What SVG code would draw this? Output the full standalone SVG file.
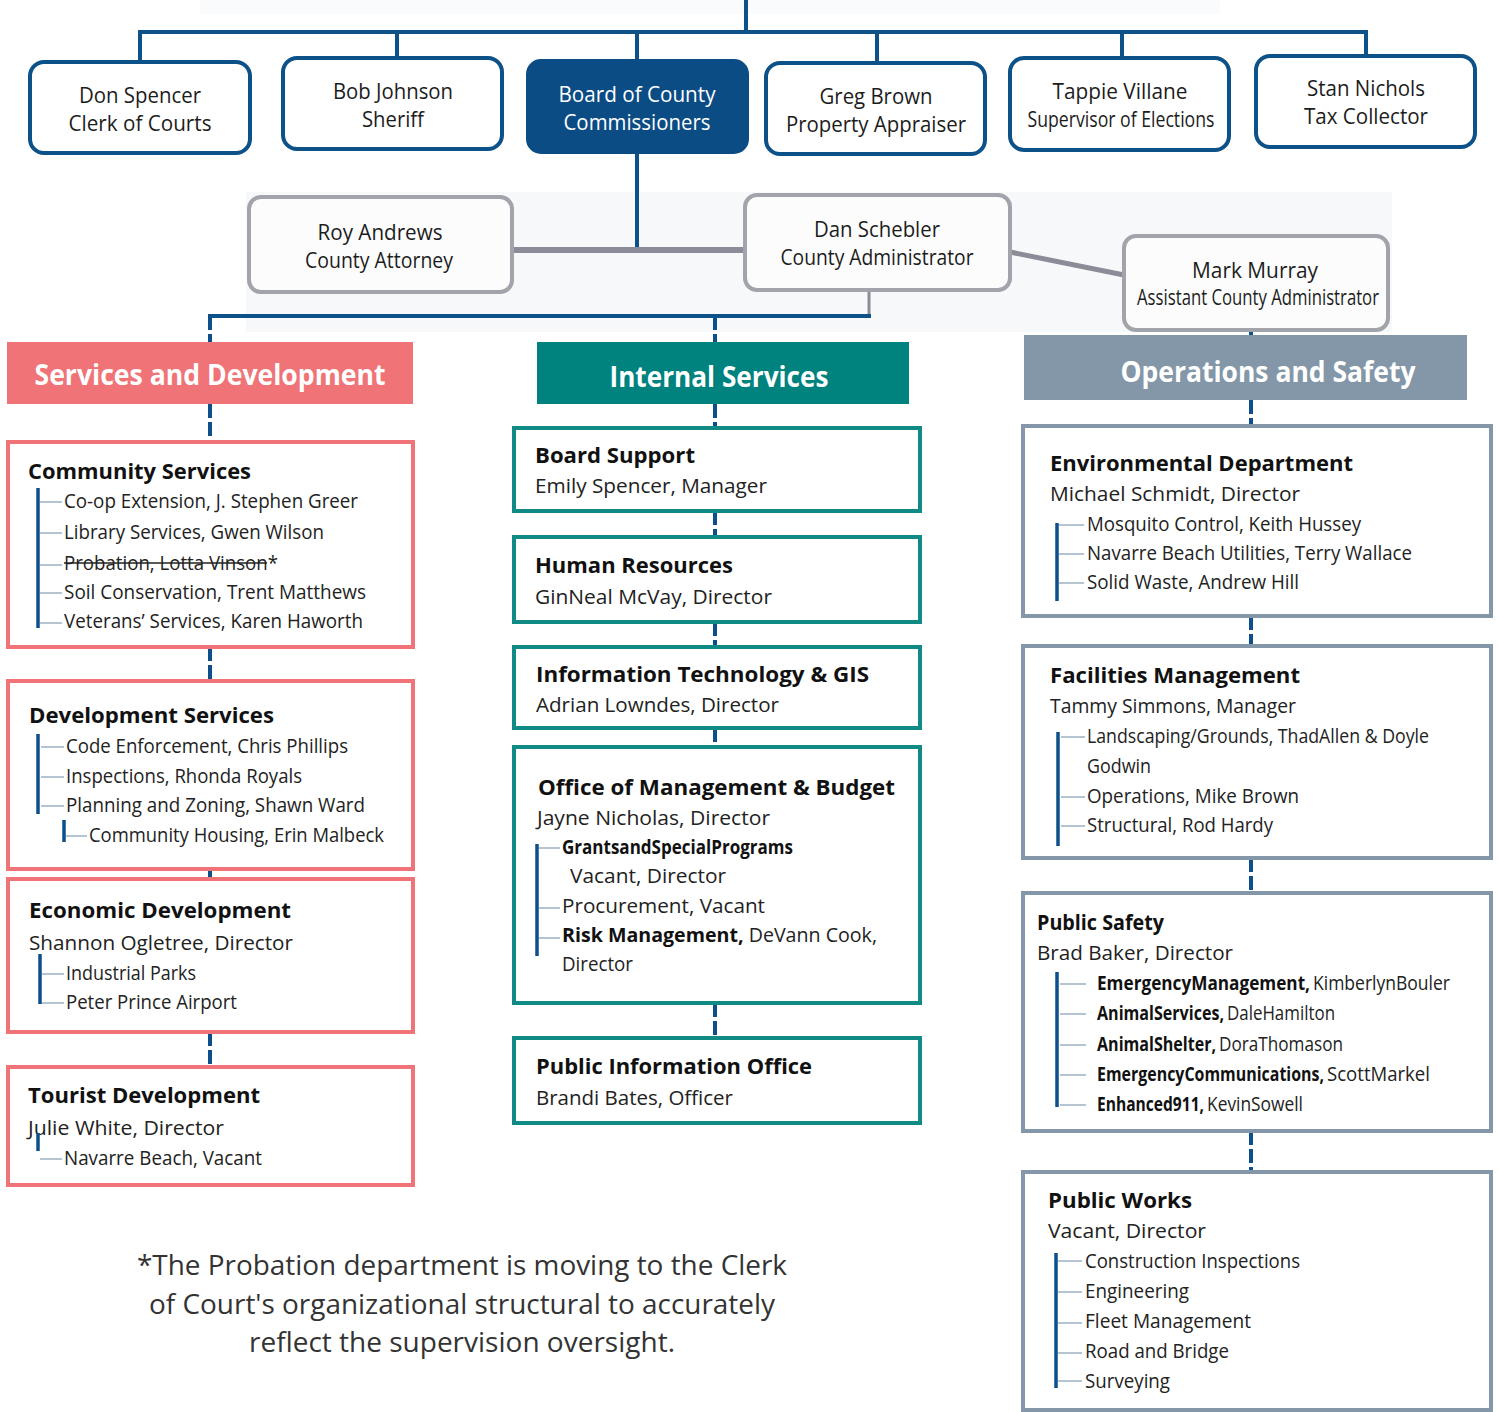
<svg xmlns="http://www.w3.org/2000/svg" width="1499" height="1412" viewBox="0 0 1499 1412">
<style>
text{font-family:'Open Sans','Liberation Sans',sans-serif;}
.tb{font-size:21px;fill:#1c1c1c;text-anchor:middle}
.tbw{font-size:21px;fill:#ffffff;text-anchor:middle}
.ttl{font-size:22px;font-weight:700;fill:#111}
.sub{font-size:20px;fill:#222}
.it{font-size:20px;fill:#222}
.itb{font-size:20px;font-weight:700;fill:#111}
.nar{font-family:'Liberation Sans Narrow','Open Sans',sans-serif;font-size:20px;fill:#222}
.narb{font-family:'Liberation Sans Narrow','Open Sans',sans-serif;font-size:20px;font-weight:700;fill:#111}
.hdr{font-size:28px;font-weight:700;fill:#fff;text-anchor:middle}
.foot{font-size:28px;fill:#333;text-anchor:middle}
.topbox{fill:#fff;stroke:#0d5189;stroke-width:4}
.graybox{fill:#fcfcfd;stroke:#a2a3ab;stroke-width:4}
.boxR{fill:#fff;stroke:#f07377;stroke-width:4}
.boxT{fill:#fff;stroke:#0f8a84;stroke-width:4}
.boxG{fill:#fff;stroke:#8397a8;stroke-width:4}
.bar{stroke:#0c4f8a;stroke-width:3.5}
.tick{stroke:#9db1c5;stroke-width:1.5}
.solid{stroke:#0d5189;stroke-width:4;fill:none}
.dash{stroke:#0c4f8a;stroke-width:4;stroke-dasharray:14 4;fill:none}
.grayc{stroke:#8b8c97;fill:none}
</style>

<!-- faint background artifacts -->
<rect x="200" y="0" width="1020" height="14" fill="#f3f4f7" opacity="0.4"/>
<rect x="246" y="192" width="1146" height="140" fill="#f4f5f8" opacity="0.7"/>

<g id="connectors">
  <path class="solid" d="M746 0V32 M138 32H1368 M140 32V62 M397 32V58 M637 32V60 M877 32V63 M1122 32V58 M1366 32V56"/>
  <path class="solid" d="M637 153V250"/>
  <path class="grayc" stroke-width="6" d="M512 250H745"/>
  <path class="grayc" stroke-width="5" d="M1010 252L1124 275"/>
  <path class="grayc" stroke-width="3" d="M869 290V316"/>
  <path class="solid" stroke-width="3.5" d="M208 316H871"/>
  <path class="dash" d="M210 316V342 M210 404V442 M210 647V681 M210 869V879 M210 1032V1067"/>
  <path class="dash" d="M715 316V342 M715 404V428 M715 511V537 M715 622V647 M715 728V747 M715 1003V1038"/>
  <path class="dash" d="M1251 314V335 M1251 400V426 M1251 616V646 M1251 858V893 M1251 1131V1172"/>
</g>

<g id="don-spencer">
  <rect class="topbox" x="30" y="62" width="220" height="91" rx="14"/>
  <text class="tb" x="140" y="103" textLength="122" lengthAdjust="spacingAndGlyphs">Don Spencer</text>
  <text class="tb" x="140" y="131" textLength="143" lengthAdjust="spacingAndGlyphs">Clerk of Courts</text>
</g>
<g id="bob-johnson">
  <rect class="topbox" x="283" y="58" width="219" height="91" rx="14"/>
  <text class="tb" x="393" y="99" textLength="120" lengthAdjust="spacingAndGlyphs">Bob Johnson</text>
  <text class="tb" x="393" y="127" textLength="62" lengthAdjust="spacingAndGlyphs">Sheriff</text>
</g>
<g id="board">
  <rect x="527" y="60" width="221" height="93" rx="14" fill="#0b4c85" stroke="#0b4c85" stroke-width="2"/>
  <text class="tbw" x="637" y="102" textLength="157" lengthAdjust="spacingAndGlyphs">Board of County</text>
  <text class="tbw" x="637" y="130" textLength="147" lengthAdjust="spacingAndGlyphs">Commissioners</text>
</g>
<g id="greg-brown">
  <rect class="topbox" x="766" y="63" width="219" height="91" rx="14"/>
  <text class="tb" x="876" y="104" textLength="113" lengthAdjust="spacingAndGlyphs">Greg Brown</text>
  <text class="tb" x="876" y="132" textLength="180" lengthAdjust="spacingAndGlyphs">Property Appraiser</text>
</g>
<g id="tappie-villane">
  <rect class="topbox" x="1010" y="58" width="219" height="92" rx="14"/>
  <text class="tb" x="1120" y="99" textLength="135" lengthAdjust="spacingAndGlyphs">Tappie Villane</text>
  <text class="tb" x="1121" y="127" textLength="187" lengthAdjust="spacingAndGlyphs">Supervisor of Elections</text>
</g>
<g id="stan-nichols">
  <rect class="topbox" x="1256" y="56" width="219" height="91" rx="14"/>
  <text class="tb" x="1366" y="96" textLength="118" lengthAdjust="spacingAndGlyphs">Stan Nichols</text>
  <text class="tb" x="1366" y="124" textLength="124" lengthAdjust="spacingAndGlyphs">Tax Collector</text>
</g>

<g id="roy-andrews">
  <rect class="graybox" x="249" y="197" width="263" height="95" rx="12"/>
  <text class="tb" x="380" y="240" textLength="125" lengthAdjust="spacingAndGlyphs">Roy Andrews</text>
  <text class="tb" x="379" y="268" textLength="148" lengthAdjust="spacingAndGlyphs">County Attorney</text>
</g>
<g id="dan-schebler">
  <rect class="graybox" x="745" y="195" width="265" height="95" rx="12"/>
  <text class="tb" x="877" y="237" textLength="126" lengthAdjust="spacingAndGlyphs">Dan Schebler</text>
  <text class="tb" x="877" y="265" textLength="193" lengthAdjust="spacingAndGlyphs">County Administrator</text>
</g>
<g id="mark-murray">
  <rect class="graybox" x="1124" y="236" width="264" height="94" rx="12"/>
  <text class="tb" x="1255" y="278" textLength="126" lengthAdjust="spacingAndGlyphs">Mark Murray</text>
  <text class="tb" x="1258" y="305" font-size="19" textLength="242" lengthAdjust="spacingAndGlyphs">Assistant County Administrator</text>
</g>

<!-- headers -->
<g id="hdr-services">
  <rect x="7" y="342" width="406" height="62" fill="#f07377"/>
  <text class="hdr" x="210" y="385" textLength="351" lengthAdjust="spacingAndGlyphs">Services and Development</text>
</g>
<g id="hdr-internal">
  <rect x="537" y="342" width="372" height="62" fill="#00827f"/>
  <text class="hdr" x="719" y="387" textLength="219" lengthAdjust="spacingAndGlyphs">Internal Services</text>
</g>
<g id="hdr-operations">
  <rect x="1024" y="335" width="443" height="65" fill="#8397a8"/>
  <text class="hdr" x="1268" y="382" textLength="295" lengthAdjust="spacingAndGlyphs">Operations and Safety</text>
</g>

<!-- left column -->
<g id="community-services">
  <rect class="boxR" x="8" y="442" width="405" height="205"/>
  <text class="ttl" x="28" y="479" textLength="223" lengthAdjust="spacingAndGlyphs">Community Services</text>
  <line class="bar" x1="38" y1="488" x2="38" y2="628"/>
  <path class="tick" d="M40 502H62 M40 533H62 M40 565H62 M40 593H62 M40 623H62"/>
  <text class="it" x="64" y="508" textLength="294" lengthAdjust="spacingAndGlyphs">Co-op Extension, J. Stephen Greer</text>
  <text class="it" x="64" y="539" textLength="260" lengthAdjust="spacingAndGlyphs">Library Services, Gwen Wilson</text>
  <text class="it" x="64" y="570" textLength="214" lengthAdjust="spacingAndGlyphs">Probation, Lotta Vinson*</text>
  <line x1="64" y1="563" x2="267" y2="563" stroke="#222" stroke-width="1.6"/>
  <text class="it" x="64" y="599" textLength="302" lengthAdjust="spacingAndGlyphs">Soil Conservation, Trent Matthews</text>
  <text class="it" x="64" y="628" textLength="299" lengthAdjust="spacingAndGlyphs">Veterans’ Services, Karen Haworth</text>
</g>
<g id="development-services">
  <rect class="boxR" x="8" y="681" width="405" height="188"/>
  <text class="ttl" x="29" y="723" textLength="245" lengthAdjust="spacingAndGlyphs">Development Services</text>
  <line class="bar" x1="38" y1="734" x2="38" y2="814"/>
  <path class="tick" d="M41 747H64 M41 777H64 M41 806H64 M66 836H87"/>
  <line class="bar" x1="64" y1="820" x2="64" y2="842"/>
  <text class="it" x="66" y="753" textLength="282" lengthAdjust="spacingAndGlyphs">Code Enforcement, Chris Phillips</text>
  <text class="it" x="66" y="783" textLength="236" lengthAdjust="spacingAndGlyphs">Inspections, Rhonda Royals</text>
  <text class="it" x="66" y="812" textLength="299" lengthAdjust="spacingAndGlyphs">Planning and Zoning, Shawn Ward</text>
  <text class="it" x="89" y="842" textLength="295" lengthAdjust="spacingAndGlyphs">Community Housing, Erin Malbeck</text>
</g>
<g id="economic-development">
  <rect class="boxR" x="8" y="879" width="405" height="153"/>
  <text class="ttl" x="29" y="918" textLength="262" lengthAdjust="spacingAndGlyphs">Economic Development</text>
  <text class="sub" x="29" y="950" textLength="264" lengthAdjust="spacingAndGlyphs">Shannon Ogletree, Director</text>
  <line class="bar" x1="40" y1="954" x2="40" y2="1004"/>
  <path class="tick" d="M42 974H64 M42 1003H64"/>
  <text class="it" x="66" y="980" textLength="130" lengthAdjust="spacingAndGlyphs">Industrial Parks</text>
  <text class="it" x="66" y="1009" textLength="171" lengthAdjust="spacingAndGlyphs">Peter Prince Airport</text>
</g>
<g id="tourist-development">
  <rect class="boxR" x="8" y="1067" width="405" height="118"/>
  <text class="ttl" x="28" y="1103" textLength="232" lengthAdjust="spacingAndGlyphs">Tourist Development</text>
  <text class="sub" x="28" y="1135" textLength="196" lengthAdjust="spacingAndGlyphs">Julie White, Director</text>
  <line class="bar" x1="38" y1="1133" x2="38" y2="1151"/>
  <path class="tick" d="M40 1159H62"/>
  <text class="it" x="64" y="1165" textLength="198" lengthAdjust="spacingAndGlyphs">Navarre Beach, Vacant</text>
</g>

<!-- middle column -->
<g id="board-support">
  <rect class="boxT" x="514" y="428" width="406" height="83"/>
  <text class="ttl" x="535" y="463" textLength="160" lengthAdjust="spacingAndGlyphs">Board Support</text>
  <text class="sub" x="535" y="493" textLength="232" lengthAdjust="spacingAndGlyphs">Emily Spencer, Manager</text>
</g>
<g id="human-resources">
  <rect class="boxT" x="514" y="537" width="406" height="85"/>
  <text class="ttl" x="535" y="573" textLength="198" lengthAdjust="spacingAndGlyphs">Human Resources</text>
  <text class="sub" x="535" y="604" textLength="237" lengthAdjust="spacingAndGlyphs">GinNeal McVay, Director</text>
</g>
<g id="information-technology">
  <rect class="boxT" x="514" y="647" width="406" height="81"/>
  <text class="ttl" x="536" y="682" textLength="333" lengthAdjust="spacingAndGlyphs">Information Technology &amp; GIS</text>
  <text class="sub" x="536" y="712" textLength="243" lengthAdjust="spacingAndGlyphs">Adrian Lowndes, Director</text>
</g>
<g id="omb">
  <rect class="boxT" x="514" y="747" width="406" height="256"/>
  <text class="ttl" x="538" y="795" textLength="357" lengthAdjust="spacingAndGlyphs">Office of Management &amp; Budget</text>
  <text class="sub" x="537" y="825" textLength="233" lengthAdjust="spacingAndGlyphs">Jayne Nicholas, Director</text>
  <line class="bar" x1="537" y1="844" x2="537" y2="956"/>
  <path class="tick" d="M539 848H560 M539 908H560 M539 938H560"/>
  <text class="narb" x="562" y="854" textLength="231" lengthAdjust="spacingAndGlyphs">GrantsandSpecialPrograms</text>
  <text class="sub" x="570" y="883" textLength="156" lengthAdjust="spacingAndGlyphs">Vacant, Director</text>
  <text class="sub" x="562" y="913" textLength="203" lengthAdjust="spacingAndGlyphs">Procurement, Vacant</text>
  <text class="it" x="562" y="942" textLength="315" lengthAdjust="spacingAndGlyphs"><tspan font-weight="700" fill="#111">Risk Management,</tspan> DeVann Cook,</text>
  <text class="it" x="562" y="971" textLength="71" lengthAdjust="spacingAndGlyphs">Director</text>
</g>
<g id="public-information">
  <rect class="boxT" x="514" y="1038" width="406" height="85"/>
  <text class="ttl" x="536" y="1074" textLength="276" lengthAdjust="spacingAndGlyphs">Public Information Office</text>
  <text class="sub" x="536" y="1105" textLength="197" lengthAdjust="spacingAndGlyphs">Brandi Bates, Officer</text>
</g>

<!-- right column -->
<g id="environmental">
  <rect class="boxG" x="1023" y="426" width="468" height="190"/>
  <text class="ttl" x="1050" y="471" textLength="303" lengthAdjust="spacingAndGlyphs">Environmental Department</text>
  <text class="sub" x="1050" y="501" textLength="250" lengthAdjust="spacingAndGlyphs">Michael Schmidt, Director</text>
  <line class="bar" x1="1057" y1="523" x2="1057" y2="601"/>
  <path class="tick" d="M1059 525H1084 M1059 554H1084 M1059 583H1084"/>
  <text class="it" x="1087" y="531" textLength="274" lengthAdjust="spacingAndGlyphs">Mosquito Control, Keith Hussey</text>
  <text class="it" x="1087" y="560" textLength="325" lengthAdjust="spacingAndGlyphs">Navarre Beach Utilities, Terry Wallace</text>
  <text class="it" x="1087" y="589" textLength="212" lengthAdjust="spacingAndGlyphs">Solid Waste, Andrew Hill</text>
</g>
<g id="facilities">
  <rect class="boxG" x="1023" y="646" width="468" height="212"/>
  <text class="ttl" x="1050" y="683" textLength="250" lengthAdjust="spacingAndGlyphs">Facilities Management</text>
  <text class="sub" x="1050" y="713" textLength="246" lengthAdjust="spacingAndGlyphs">Tammy  Simmons, Manager</text>
  <line class="bar" x1="1058" y1="732" x2="1058" y2="846"/>
  <path class="tick" d="M1061 737H1085 M1061 797H1085 M1061 826H1085"/>
  <text class="it" x="1087" y="743" textLength="342" lengthAdjust="spacingAndGlyphs">Landscaping/Grounds, ThadAllen &amp;  Doyle</text>
  <text class="it" x="1087" y="773" textLength="64" lengthAdjust="spacingAndGlyphs">Godwin</text>
  <text class="it" x="1087" y="803" textLength="212" lengthAdjust="spacingAndGlyphs">Operations, Mike Brown</text>
  <text class="it" x="1087" y="832" textLength="186" lengthAdjust="spacingAndGlyphs">Structural, Rod Hardy</text>
</g>
<g id="public-safety">
  <rect class="boxG" x="1023" y="893" width="468" height="238"/>
  <text class="ttl" x="1037" y="930" font-size="20" textLength="127" lengthAdjust="spacingAndGlyphs">Public Safety</text>
  <text class="sub" x="1037" y="960" textLength="196" lengthAdjust="spacingAndGlyphs">Brad Baker, Director</text>
  <line class="bar" x1="1057" y1="972" x2="1057" y2="1107"/>
  <path class="tick" d="M1060 984H1086 M1060 1014H1086 M1060 1045H1086 M1060 1075H1086 M1060 1105H1086"/>
  <text class="narb" x="1097" y="990" textLength="213" lengthAdjust="spacingAndGlyphs">EmergencyManagement,</text>
  <text class="nar" x="1313" y="990" textLength="137" lengthAdjust="spacingAndGlyphs">KimberlynBouler</text>
  <text class="narb" x="1097" y="1020" textLength="127" lengthAdjust="spacingAndGlyphs">AnimalServices,</text>
  <text class="nar" x="1227" y="1020" textLength="108" lengthAdjust="spacingAndGlyphs">DaleHamilton</text>
  <text class="narb" x="1097" y="1051" textLength="119" lengthAdjust="spacingAndGlyphs">AnimalShelter,</text>
  <text class="nar" x="1219" y="1051" textLength="124" lengthAdjust="spacingAndGlyphs">DoraThomason</text>
  <text class="narb" x="1097" y="1081" textLength="227" lengthAdjust="spacingAndGlyphs">EmergencyCommunications,</text>
  <text class="nar" x="1327" y="1081" textLength="103" lengthAdjust="spacingAndGlyphs">ScottMarkel</text>
  <text class="narb" x="1097" y="1111" textLength="107" lengthAdjust="spacingAndGlyphs">Enhanced911,</text>
  <text class="nar" x="1207" y="1111" textLength="96" lengthAdjust="spacingAndGlyphs">KevinSowell</text>
</g>
<g id="public-works">
  <rect class="boxG" x="1023" y="1172" width="468" height="238"/>
  <text class="ttl" x="1048" y="1208" textLength="144" lengthAdjust="spacingAndGlyphs">Public Works</text>
  <text class="sub" x="1048" y="1238" textLength="158" lengthAdjust="spacingAndGlyphs">Vacant, Director</text>
  <line class="bar" x1="1056" y1="1253" x2="1056" y2="1388"/>
  <path class="tick" d="M1058 1261H1082 M1058 1292H1082 M1058 1323H1082 M1058 1353H1082 M1058 1381H1082"/>
  <text class="it" x="1085" y="1268" textLength="215" lengthAdjust="spacingAndGlyphs">Construction Inspections</text>
  <text class="it" x="1085" y="1298" textLength="104" lengthAdjust="spacingAndGlyphs">Engineering</text>
  <text class="it" x="1085" y="1328" textLength="166" lengthAdjust="spacingAndGlyphs">Fleet Management</text>
  <text class="it" x="1085" y="1358" textLength="144" lengthAdjust="spacingAndGlyphs">Road and Bridge</text>
  <text class="it" x="1085" y="1388" textLength="85" lengthAdjust="spacingAndGlyphs">Surveying</text>
</g>

<g id="footnote">
  <text class="foot" x="462" y="1275" textLength="650" lengthAdjust="spacingAndGlyphs">*The Probation department is moving to the Clerk</text>
  <text class="foot" x="462" y="1314" textLength="626" lengthAdjust="spacingAndGlyphs">of Court's organizational structural to accurately</text>
  <text class="foot" x="462" y="1352" textLength="426" lengthAdjust="spacingAndGlyphs">reflect the supervision oversight.</text>
</g>
</svg>
